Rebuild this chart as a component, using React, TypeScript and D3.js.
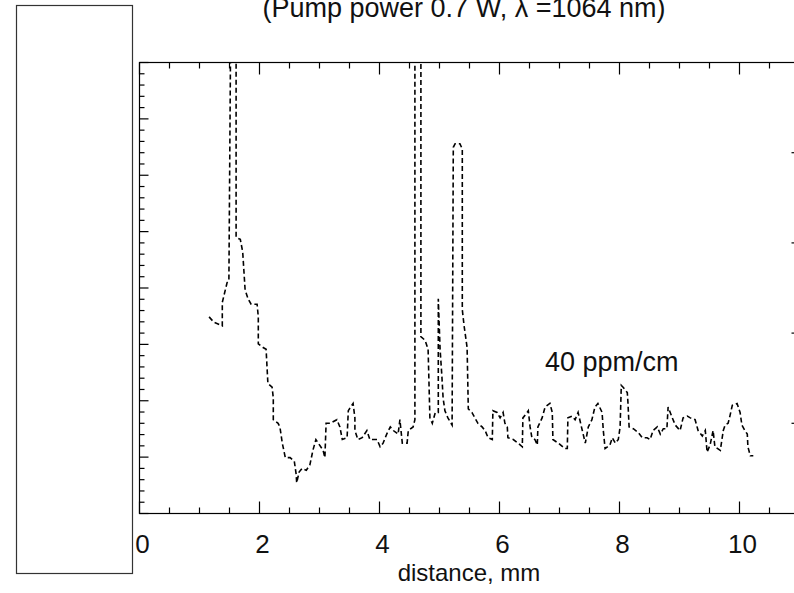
import React, { useEffect, useRef } from "react";
import * as d3 from "d3";

// distance along the sample, mm
const distance = [
  1.16, 1.24, 1.38, 1.38, 1.46, 1.49, 1.52, 1.61, 1.61, 1.68, 1.72, 1.76, 1.81, 1.86, 1.96, 1.98,
  1.98, 2.06, 2.11, 2.14, 2.21, 2.23, 2.23, 2.31, 2.34, 2.38, 2.43, 2.51, 2.58, 2.61, 2.62, 2.66,
  2.71, 2.78, 2.84, 2.89, 2.94, 2.98, 3.06, 3.09, 3.11, 3.18, 3.29, 3.34, 3.38, 3.46, 3.48, 3.56,
  3.59, 3.59, 3.64, 3.71, 3.79, 3.84, 3.96, 4.01, 4.06, 4.12, 4.18, 4.23, 4.31, 4.34, 4.38, 4.46,
  4.48, 4.56, 4.59, 4.59, 4.69, 4.69, 4.76, 4.81, 4.84, 4.88, 4.93, 4.98, 4.98, 5.01, 5.04, 5.06,
  5.09, 5.14, 5.21, 5.23, 5.26, 5.34, 5.38, 5.38, 5.41, 5.46, 5.48, 5.54, 5.59, 5.64, 5.71, 5.76,
  5.81, 5.88, 5.89, 5.96, 6.01, 6.06, 6.09, 6.13, 6.14, 6.23, 6.31, 6.38, 6.39, 6.46, 6.48, 6.51,
  6.54, 6.59, 6.63, 6.64, 6.71, 6.76, 6.84, 6.88, 6.89, 6.98, 7.09, 7.13, 7.14, 7.21, 7.26, 7.31,
  7.38, 7.43, 7.48, 7.54, 7.59, 7.64, 7.71, 7.73, 7.76, 7.84, 7.88, 7.93, 7.98, 8.01, 8.03, 8.06,
  8.13, 8.14, 8.16, 8.23, 8.31, 8.38, 8.46, 8.51, 8.56, 8.63, 8.68, 8.73, 8.79, 8.81, 8.88, 8.93,
  9.01, 9.06, 9.13, 9.18, 9.26, 9.31, 9.38, 9.43, 9.46, 9.51, 9.56, 9.59, 9.68, 9.73, 9.76, 9.81,
  9.84, 9.88, 9.96, 10.01, 10.04, 10.09, 10.13, 10.14, 10.18, 10.23,
];

// absorption, ppm/cm
const absorption = [
  109, 106, 104, 117, 128, 129, 270, 270, 153, 152, 145, 124, 119, 116, 116, 109,
  94, 92, 91, 72, 70, 64, 52, 50, 48, 39, 31, 31, 29, 22, 17, 23,
  25, 24, 27, 35, 41, 39, 35, 31, 50, 50, 52, 48, 41, 42, 57, 61,
  53, 46, 41, 42, 46, 41, 41, 37, 39, 44, 48, 46, 44, 52, 39, 39,
  46, 48, 52, 270, 270, 98, 96, 91, 53, 50, 56, 56, 119, 91, 76, 64,
  57, 53, 49, 203, 205, 205, 202, 113, 104, 92, 58, 56, 53, 50, 48, 46,
  42, 41, 57, 56, 53, 56, 50, 48, 42, 41, 39, 37, 53, 56, 57, 48,
  42, 41, 38, 48, 53, 59, 61, 56, 41, 39, 36, 36, 53, 54, 52, 56,
  46, 39, 48, 52, 59, 61, 56, 46, 36, 38, 42, 39, 41, 48, 71, 70,
  67, 62, 48, 47, 45, 42, 42, 41, 46, 48, 44, 47, 47, 59, 53, 49,
  46, 53, 54, 53, 52, 46, 43, 46, 34, 38, 46, 37, 35, 46, 49, 50,
  54, 60, 61, 56, 49, 46, 44, 37, 32, 32,
];

const xMajorTicks = [0, 2, 4, 6, 8, 10];
const rightTicks = [50, 100, 150, 200];
const titleText = "(Pump power 0.7 W, \u03bb =1064 nm)";
const xLabel = "distance, mm";
const noteText = "40 ppm/cm";

const W = 794;
const H = 593;
const font = "'Liberation Sans', Arial, sans-serif";

export default function App() {
  const ref = useRef<SVGSVGElement>(null);

  useEffect(() => {
    const svg = d3.select(ref.current);
    svg.selectAll("*").remove();

    const left = 139.5, right = 799.5, top = 62.5, bottom = 513.5;
    const x = d3.scaleLinear().domain([0, 11]).range([left, right]);
    const y = d3.scaleLinear().domain([0, 250]).range([bottom, top]);
    // left axis is a separate scale: 8 majors, 5 minor steps each
    const yl = d3.scaleLinear().domain([0, 8]).range([bottom, top]);

    svg.append("rect").attr("width", W).attr("height", H).attr("fill", "#fff");

    svg.append("defs").append("clipPath").attr("id", "plotclip")
      .append("rect").attr("x", left).attr("y", top).attr("width", right - left).attr("height", bottom - top);

    // frame
    const ax = svg.append("g").attr("stroke", "#000").attr("stroke-width", 1.2).attr("fill", "none");
    ax.append("rect").attr("x", left).attr("y", top).attr("width", right - left).attr("height", bottom - top);

    // x ticks, bottom and top
    const xMinor = d3.range(0, 11.01, 0.5);
    xMinor.forEach((v) => {
      const len = xMajorTicks.includes(v) ? 12 : 6;
      ax.append("line").attr("x1", x(v)).attr("x2", x(v)).attr("y1", bottom).attr("y2", bottom - len);
      ax.append("line").attr("x1", x(v)).attr("x2", x(v)).attr("y1", top).attr("y2", top + len);
    });

    // left ticks
    d3.range(0, 8.01, 0.2).forEach((v, i) => {
      const len = i % 5 === 0 ? 9 : 5;
      ax.append("line").attr("x1", left).attr("x2", left + len).attr("y1", yl(v)).attr("y2", yl(v));
    });

    // right ticks
    rightTicks.forEach((v) => {
      ax.append("line").attr("x1", right).attr("x2", right - 8).attr("y1", y(v)).attr("y2", y(v));
    });

    // data trace
    const pts: [number, number][] = distance.map((d, i) => [d, absorption[i]]);
    const line = d3.line<[number, number]>().x((d) => x(d[0])).y((d) => y(d[1]));
    svg.append("path")
      .datum(pts)
      .attr("clip-path", "url(#plotclip)")
      .attr("d", line)
      .attr("fill", "none")
      .attr("stroke", "#000")
      .attr("stroke-width", 1.6)
      .attr("stroke-dasharray", "5,3");

    // x tick labels
    svg.append("g").selectAll("text").data(xMajorTicks).enter().append("text")
      .attr("x", (d) => x(d) + 3)
      .attr("y", 553)
      .attr("text-anchor", "middle")
      .attr("font-family", font)
      .attr("font-size", 26)
      .attr("fill", "#111")
      .text((d) => d);

    svg.append("text")
      .attr("x", 469).attr("y", 581)
      .attr("text-anchor", "middle")
      .attr("font-family", font).attr("font-size", 24).attr("fill", "#111")
      .text(xLabel);

    svg.append("text")
      .attr("x", 545).attr("y", 371)
      .attr("font-family", font).attr("font-size", 27).attr("fill", "#111")
      .text(noteText);

    svg.append("text")
      .attr("x", 464).attr("y", 17)
      .attr("text-anchor", "middle")
      .attr("font-family", font).attr("font-size", 27).attr("fill", "#111")
      .text(titleText);

    // blank box on the left covering the y labels
    svg.append("rect")
      .attr("x", 16.5).attr("y", 5.5).attr("width", 116).attr("height", 568)
      .attr("fill", "#fff").attr("stroke", "#333").attr("stroke-width", 1.2);
  }, []);

  return (
    <svg ref={ref} width={W} height={H} style={{ position: "absolute", left: 0, top: 0 }} />
  );
}
